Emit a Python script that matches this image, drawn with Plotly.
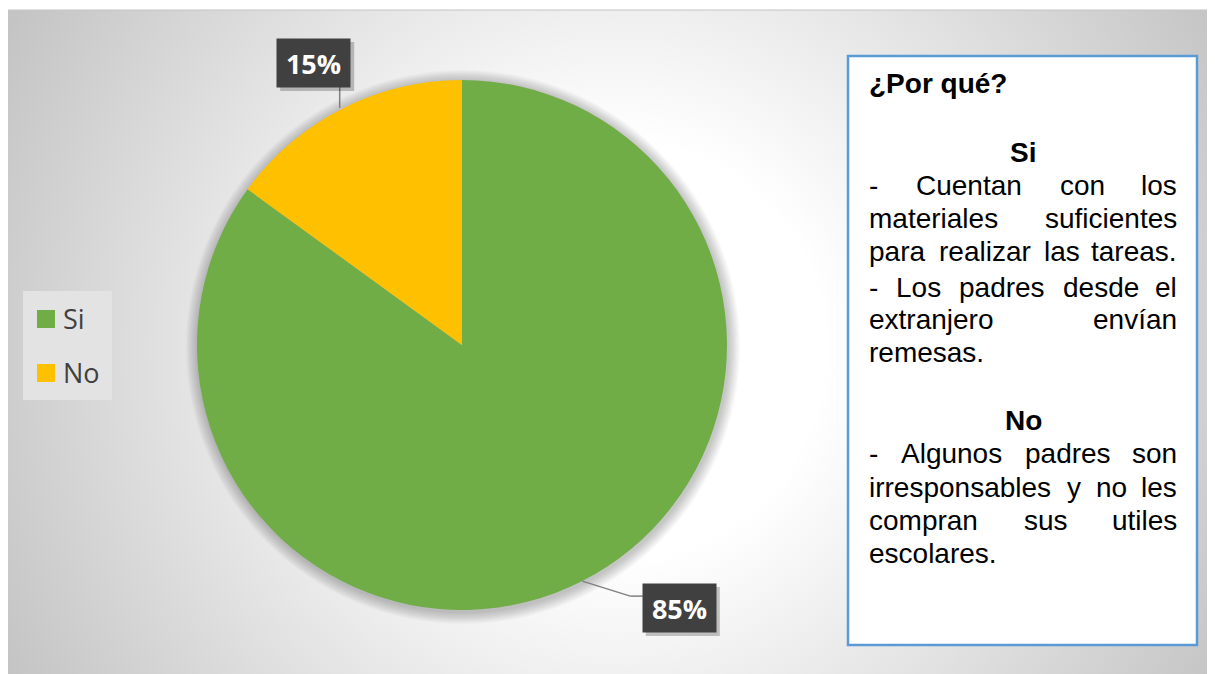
import base64, math
import plotly.graph_objects as go

# ---------------- data ----------------
labels = ["Si", "No"]
values = [85, 15]
colors = ["#70AD47", "#FFC000"]

box_title = "¿Por qué?"
si_lines = [
    "- Cuentan con los",
    "materiales suficientes",
    "para realizar las tareas.",
    "- Los padres desde el",
    "extranjero envían",
    "remesas.",
]
no_lines = [
    "- Algunos padres son",
    "irresponsables y no les",
    "compran sus utiles",
    "escolares.",
]

# ---------------- layout constants ----------------
OFF = 8                      # page body margin
W, H = 1215 - OFF, 674 - OFF
def px(x): return (x - OFF) / W
def py(y): return 1 - (y - OFF) / H

CX, CY, R = 462, 345, 265

# Arial / Liberation Sans advance widths (per 1000 em) for justification
AW = dict(a=556, b=556, c=500, d=556, e=556, f=278, g=556, h=556, i=222, j=222, k=500,
          l=222, m=833, n=556, o=556, p=556, q=556, r=333, s=500, t=278, u=556, v=500,
          w=722, x=500, y=500, z=500)
AW.update({"í": 278, "é": 556, "C": 722, "L": 556, "A": 667, "-": 333, ".": 278, " ": 278})
def tw(s, fs): return sum(AW.get(ch, 556) for ch in s) * fs / 1000

fig = go.Figure()
fig.add_trace(go.Pie(
    labels=labels, values=values, sort=False, direction="clockwise", rotation=0,
    marker=dict(colors=colors, line=dict(width=0)),
    textinfo="none", showlegend=False, hoverinfo="label+percent",
    domain=dict(x=[px(CX - R), px(CX + R)], y=[py(CY + R), py(CY - R)]),
))

# background radial gradient
svg = '''<svg xmlns="http://www.w3.org/2000/svg" width="1209" height="664" viewBox="0 0 1209 664">
<defs><radialGradient id="g" gradientUnits="userSpaceOnUse" cx="610" cy="340" r="690">
<stop offset="0" stop-color="#ffffff"/><stop offset="0.3" stop-color="#ffffff"/>
<stop offset="1" stop-color="#c4c4c4"/></radialGradient></defs>
<rect x="0" y="0" width="1209" height="664" fill="url(#g)"/></svg>'''
src = "data:image/svg+xml;base64," + base64.b64encode(svg.encode()).decode()

shapes = []
annotations = []

# chart area top border
shapes.append(dict(type="line", xref="paper", yref="paper", x0=0, x1=1,
                   y0=py(10), y1=py(10), line=dict(color="#c4c4c4", width=1), layer="below"))

# soft shadow around pie
for k in range(1, 11):
    rr = R + k * 1.2
    shapes.append(dict(type="circle", xref="paper", yref="paper",
                       x0=px(CX + 1 - rr), x1=px(CX + 1 + rr),
                       y0=py(CY + 2 + rr), y1=py(CY + 2 - rr),
                       fillcolor="rgba(0,0,0,0.025)", line=dict(width=0), layer="below"))

# data labels
total = sum(values)
cum = 0
label_offsets = [(97, 27), (-28, -46)]  # box centre offset from slice edge point
for i, v in enumerate(values):
    mid = (cum + v / 2) / total * 2 * math.pi
    cum += v
    ex, ey = CX + R * math.sin(mid), CY - R * math.cos(mid)
    dx, dy = label_offsets[i]
    bx, by = ex + dx, ey + dy
    bw, bh = 73, 48
    if i == 0:
        pts = [(ex, ey), (ex + 48, ey + 15), (bx - bw / 2, ey + 15)]
    else:
        pts = [(ex - 2, ey - 1), (ex - 2, by + bh / 2)]
    for (x0, y0), (x1, y1) in zip(pts[:-1], pts[1:]):
        shapes.append(dict(type="line", xref="paper", yref="paper",
                           x0=px(x0), y0=py(y0), x1=px(x1), y1=py(y1),
                           line=dict(color="#7f7f7f", width=1.5)))
    shapes.append(dict(type="rect", xref="paper", yref="paper",
                       x0=px(bx - bw / 2 + 3), x1=px(bx + bw / 2 + 4),
                       y0=py(by + bh / 2 + 4), y1=py(by - bh / 2 + 3),
                       fillcolor="rgba(0,0,0,0.22)", line=dict(width=0)))
    annotations.append(dict(xref="paper", yref="paper", x=px(bx), y=py(by),
                            xanchor="center", yanchor="middle", showarrow=False,
                            width=bw - 2, height=bh - 2, bgcolor="#404040", borderpad=1,
                            text=f"<b>{round(v / total * 100)}%</b>",
                            font=dict(family="Open Sans", size=27, color="#ffffff")))

# manual legend
shapes.append(dict(type="rect", xref="paper", yref="paper", x0=px(23), x1=px(112),
                   y0=py(400), y1=py(291), fillcolor="#e3e3e3", line=dict(width=0)))
for i, (lab, col) in enumerate(zip(labels, colors)):
    yc = 319 + i * 54
    shapes.append(dict(type="rect", xref="paper", yref="paper", x0=px(37), x1=px(55),
                       y0=py(yc + 9), y1=py(yc - 9), fillcolor=col, line=dict(width=0)))
    annotations.append(dict(xref="paper", yref="paper", x=px(61), y=py(yc - 1),
                            xanchor="left", yanchor="middle", showarrow=False, text=lab,
                            font=dict(family="Open Sans", size=27, color="#404040")))

# text box
shapes.append(dict(type="rect", xref="paper", yref="paper", x0=px(848), x1=px(1197),
                   y0=py(645), y1=py(56), fillcolor="#ffffff",
                   line=dict(color="#5B9BD5", width=2.5)))

FS = 28
TF = dict(family="Arial, Liberation Sans", size=FS, color="#000000")
LEFT, RIGHT, MID = 868, 1178, 1023

def txt(x, base, text, anchor="left", bold=False):
    annotations.append(dict(xref="paper", yref="paper", x=px(x), y=py(base - 0.35 * FS),
                            xanchor=anchor, yanchor="middle", showarrow=False, borderpad=0,
                            text=f"<b>{text}</b>" if bold else text, font=TF))

txt(LEFT, 93, box_title, bold=True)
txt(MID, 162, labels[0], "center", bold=True)
txt(MID, 430, labels[1], "center", bold=True)

def paragraph(lines, bases):
    for k, (line, b) in enumerate(zip(lines, bases)):
        words = line.split(" ")
        if k == len(lines) - 1 or len(words) == 1:
            txt(LEFT, b, line)
            continue
        widths = [tw(w, FS) for w in words]
        gap = (RIGHT - LEFT - sum(widths)) / (len(words) - 1)
        x = LEFT
        for j, (w, wd) in enumerate(zip(words, widths)):
            if j == len(words) - 1:
                txt(RIGHT, b, w, "right")
            else:
                txt(x, b, w)
            x += wd + gap

paragraph(si_lines, [195, 228, 261, 297, 329, 362])
paragraph(no_lines, [463, 497, 530, 563])

fig.update_layout(
    width=W, height=H, margin=dict(l=0, r=0, t=0, b=0),
    paper_bgcolor="#ffffff", plot_bgcolor="#ffffff",
    images=[dict(source=src, xref="paper", yref="paper", x=0, y=py(10),
                 sizex=1, sizey=(674 - 10) / H, xanchor="left", yanchor="top",
                 sizing="stretch", layer="below")],
    shapes=shapes, annotations=annotations, showlegend=False,
)
fig.write_html("out.html")
